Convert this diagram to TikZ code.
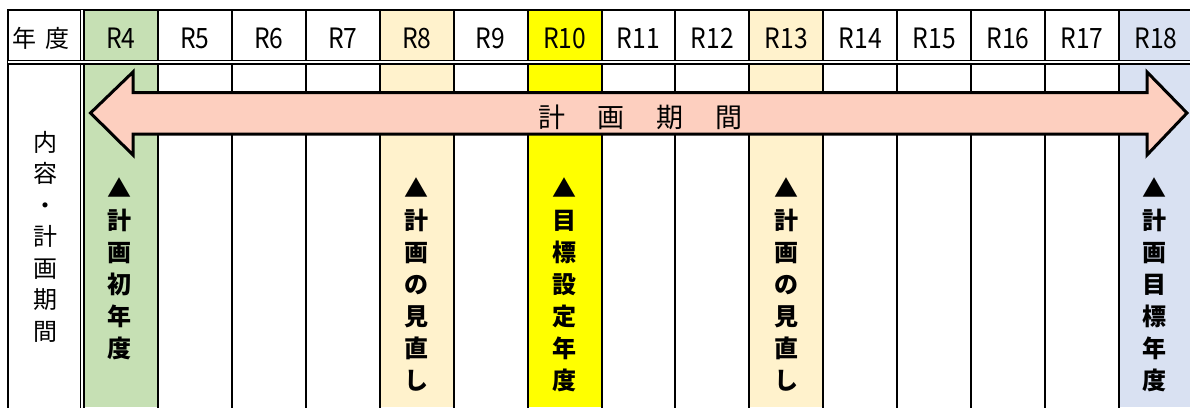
\documentclass[tikz,border=0pt]{standalone}
\usepackage{fontspec}
\setmainfont{Noto Sans CJK JP}
\definecolor{cgreen}{HTML}{C6E0B4}
\definecolor{corange}{HTML}{FFF2CC}
\definecolor{cyellow}{HTML}{FFFF00}
\definecolor{cblue}{HTML}{D9E1F2}
\definecolor{carrow}{HTML}{FDCFBF}
\begin{document}
\begin{tikzpicture}[x=1pt,y=-1pt,
  grid/.style={line width=2pt},
  dbl/.style={line width=1.1pt},
  hdr/.style={font=\fontsize{24}{24}\selectfont, inner sep=0pt},
  vlab/.style={font=\bfseries\fontsize{24}{32}\selectfont, align=center, inner sep=0pt, anchor=north},
  vreg/.style={font=\fontsize{24}{31.5}\selectfont, align=center, inner sep=0pt, anchor=north},
  arr/.style={line width=3pt, fill=carrow, line join=miter}]
\useasboundingbox (0,0) rectangle (1190,407);
% column fills
\fill[cgreen]  (84,10) rectangle (157.93,407);
\fill[corange] (379.72,10) rectangle (453.65,407);
\fill[cyellow] (527.58,10) rectangle (601.51,407);
\fill[corange] (749.37,10) rectangle (823.3,407);
\fill[cblue]   (1119.02,10) rectangle (1192,407);
% grid
\foreach \k in {1,...,14}
  \draw[grid] ({84+73.93*\k},10) -- ({84+73.93*\k},408);
\draw[grid] (8,10) -- (1192,10);
\draw[grid] (8,9) -- (8,408);
% double vertical line
\fill[white] (80.7,10) rectangle (84,408);
\draw[dbl] (80.7,10) -- (80.7,408);
\draw[dbl] (84,10) -- (84,408);
% double horizontal line
\fill[white] (8,60.6) rectangle (1192,64);
\draw[dbl] (8,60.6) -- (1192,60.6);
\draw[dbl] (8,64) -- (1192,64);
% header labels
\node[hdr] (hyear) at (41,38) {年\hspace{9pt}度};
\foreach \lab [count=\i from 0] in {R4,R5,R6,R7,R8,R9,R10,R11,R12,R13,R14,R15,R16,R17,R18}
  \node[hdr] (h\i) at ({84+73.93*(\i+0.5)},38) {\scalebox{0.88}[1]{\fontsize{28}{28}\selectfont\lab}};
% arrow
\draw[arr] (90.5,113) -- (133,72) -- (133,92.5) -- (1147,92.5) -- (1147,72) -- (1187,113)
  -- (1147,155) -- (1147,134) -- (133,134) -- (133,155) -- cycle;
\node[font=\fontsize{27}{27}\selectfont, inner sep=0pt] (period) at (640.5,117)
  {計\hspace{32pt}画\hspace{32pt}期\hspace{32pt}間};
% left column
\node[vreg] (content) at (45,131) {内\\容\\・\\計\\画\\期\\間};
% vertical labels
\node[vlab] (l4)  at (119,177) {▲\\計\\画\\初\\年\\度};
\node[vlab] (l8)  at (416.7,177) {▲\\計\\画\\の\\見\\直\\し};
\node[vlab] (l10) at (564.5,177) {▲\\目\\標\\設\\定\\年\\度};
\node[vlab] (l13) at (786.3,177) {▲\\計\\画\\の\\見\\直\\し};
\node[vlab] (l18) at (1154,177) {▲\\計\\画\\目\\標\\年\\度};
\end{tikzpicture}
\end{document}
